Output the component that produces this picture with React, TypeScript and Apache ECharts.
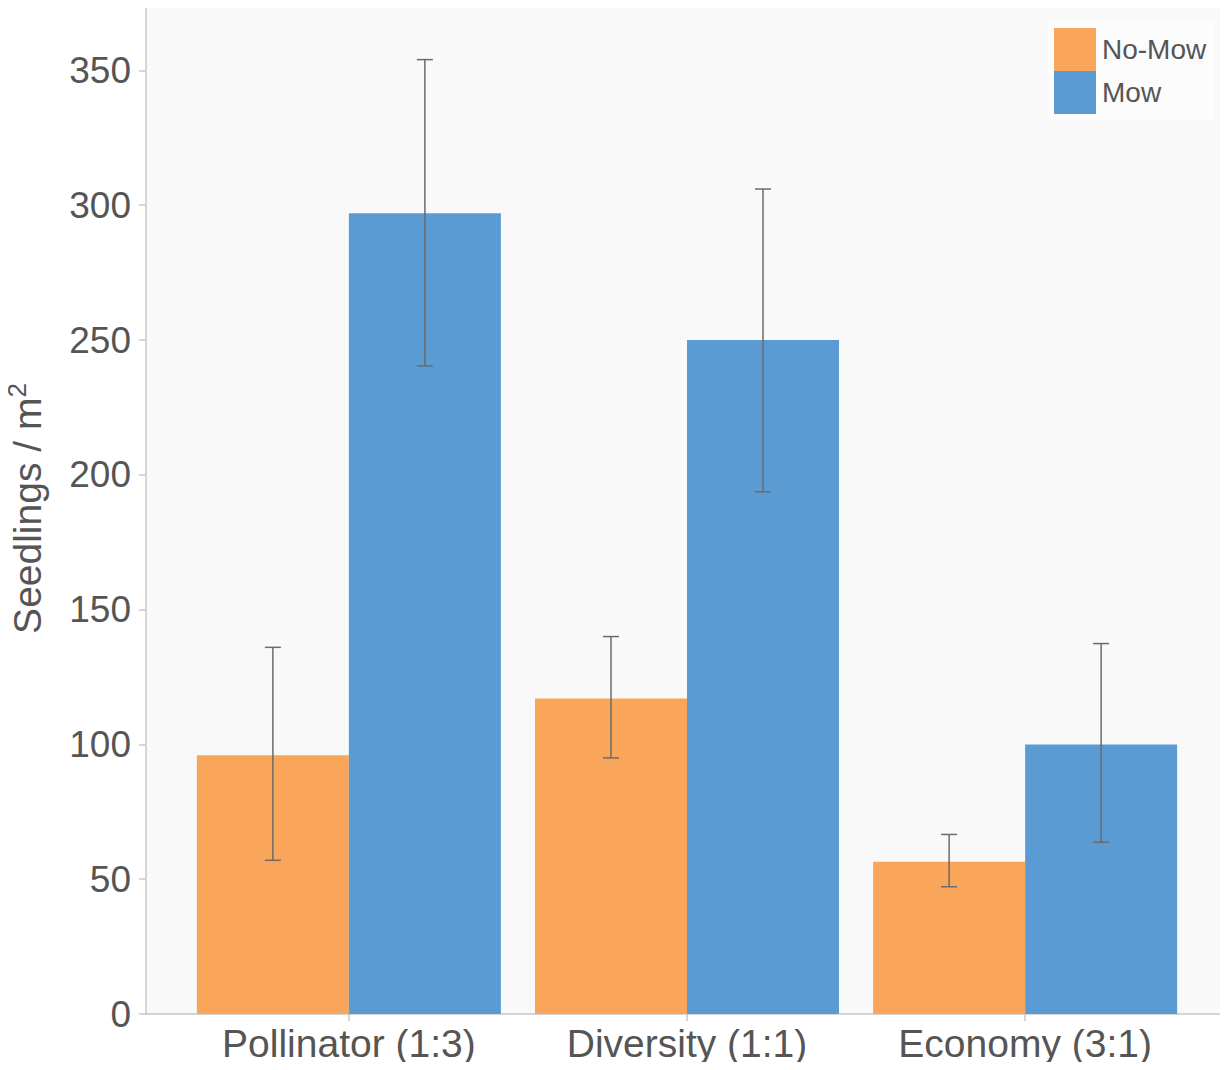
import React, { useEffect, useRef } from "react";
import * as echarts from "echarts";

const categories = ["Pollinator (1:3)", "Diversity (1:1)", "Economy (3:1)"];
const seriesNames = ["No-Mow", "Mow"];
const noMowValues = [96, 117, 56.5];
const noMowLow = [57, 95, 47.2];
const noMowHigh = [136, 140, 66.6];
const mowValues = [297, 250, 100];
const mowLow = [240.4, 193.7, 63.7];
const mowHigh = [354, 306, 137.4];
const yTicks = [0, 50, 100, 150, 200, 250, 300, 350];

const ORANGE = "#F9A65A";
const BLUE = "#5A9BD4";
const BAR_WIDTH = 152;
const FONT = "Liberation Sans, Arial, sans-serif";

export default function App() {
  const ref = useRef<HTMLDivElement>(null);
  useEffect(() => {
    if (!ref.current) return;
    const chart = echarts.init(ref.current, undefined, { renderer: "svg" });
    const catIdx = categories.map((_, i) => i);
    const errRender = (sign: number) => (params: any, api: any) => {
      const x = api.value(0);
      const lo = api.value(1);
      const hi = api.value(2);
      const pHi = api.coord([x, hi]);
      const pLo = api.coord([x, lo]);
      const cx = pHi[0] + (sign * BAR_WIDTH) / 2;
      const cap = 8;
      const style = { stroke: "#6b6b6b", lineWidth: 1.5 };
      return {
        type: "group",
        children: [
          { type: "line", shape: { x1: cx, y1: pHi[1], x2: cx, y2: pLo[1] }, style },
          { type: "line", shape: { x1: cx - cap, y1: pHi[1], x2: cx + cap, y2: pHi[1] }, style },
          { type: "line", shape: { x1: cx - cap, y1: pLo[1], x2: cx + cap, y2: pLo[1] }, style },
        ],
      };
    };
    chart.setOption({
      animation: false,
      backgroundColor: "#ffffff",
      textStyle: { fontFamily: FONT },
      grid: {
        left: 146,
        right: 0,
        top: 3,
        bottom: 56,
        show: true,
        backgroundColor: "#f9f9f9",
        borderWidth: 0,
        containLabel: false,
        outerBoundsMode: "none",
      },
      legend: {
        orient: "vertical",
        left: 1048,
        top: 22,
        padding: [6, 8, 6, 6],
        itemWidth: 42,
        itemHeight: 43,
        itemGap: 0,
        backgroundColor: "#fcfcfc",
        icon: "rect",
        data: seriesNames,
        textStyle: { fontSize: 28, color: "#555", fontFamily: FONT, padding: [0, 0, 0, 1] },
      },
      xAxis: {
        type: "value",
        min: -0.6,
        max: 2.6,
        splitLine: { show: false },
        axisLine: { show: true, onZero: false, lineStyle: { color: "#c8c8c8", width: 1.5 } },
        axisTick: { show: true, customValues: catIdx, length: 7, lineStyle: { color: "#c8c8c8", width: 1.5 } },
        axisLabel: {
          customValues: catIdx,
          formatter: (v: number) => categories[Math.round(v)] ?? "",
          fontSize: 39,
          color: "#555",
          margin: 10,
        },
      },
      yAxis: {
        type: "value",
        min: 0,
        max: 375,
        splitLine: { show: false },
        axisLine: { show: true, onZero: false, lineStyle: { color: "#c8c8c8", width: 1.5 } },
        axisTick: { show: true, customValues: yTicks, length: 7, lineStyle: { color: "#c8c8c8", width: 1.5 } },
        axisLabel: { customValues: yTicks, fontSize: 37, color: "#555", margin: 15 },
        name: "{a|Seedlings / m}{s|2}",
        nameLocation: "middle",
        nameGap: 96,
        nameRotate: 90,
        nameTextStyle: {
          rich: {
            a: { fontSize: 39, color: "#555", lineHeight: 46, fontFamily: FONT },
            s: { fontSize: 26, color: "#555", verticalAlign: "top", lineHeight: 46, fontFamily: FONT },
          },
        },
      },
      series: [
        {
          name: seriesNames[0],
          type: "bar",
          barWidth: BAR_WIDTH,
          barGap: "0%",
          itemStyle: { color: ORANGE },
          data: noMowValues.map((v, i) => [i, v]),
        },
        {
          name: seriesNames[1],
          type: "bar",
          barWidth: BAR_WIDTH,
          barGap: "0%",
          itemStyle: { color: BLUE },
          data: mowValues.map((v, i) => [i, v]),
        },
        {
          type: "custom",
          renderItem: errRender(-1),
          encode: { x: 0, y: [1, 2] },
          z: 10,
          data: noMowLow.map((lo, i) => [i, lo, noMowHigh[i]]),
        },
        {
          type: "custom",
          renderItem: errRender(1),
          encode: { x: 0, y: [1, 2] },
          z: 10,
          data: mowLow.map((lo, i) => [i, lo, mowHigh[i]]),
        },
      ],
    });
    return () => chart.dispose();
  }, []);
  return <div ref={ref} style={{ width: 1228, height: 1070, margin: -8 }} />;
}
